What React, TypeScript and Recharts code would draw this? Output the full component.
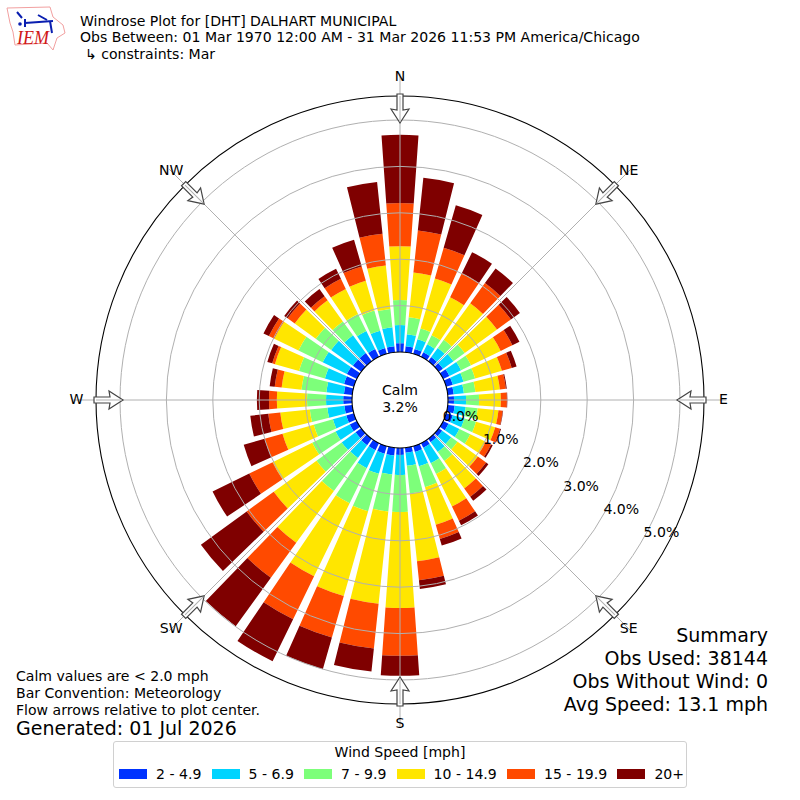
import { RadialBarChart, RadialBar, PolarAngleAxis, PolarRadiusAxis, PolarGrid, Legend } from "recharts";

/* Windrose for DHT, March. Values are percent of observations per 10 degree sector. */

const directions = [0, 10, 20, 30, 40, 50, 60, 70, 80, 90, 100, 110, 120, 130, 140, 150, 160, 170, 180, 190, 200, 210, 220, 230, 240, 250, 260, 270, 280, 290, 300, 310, 320, 330, 340, 350];
const s2to49 = [.19, .13, .11, .11, .11, .11, .15, .15, .13, .13, .15, .15, .13, .09, .09, .11, .13, .11, .15, .17, .17, .17, .17, .15, .17, .17, .17, .19, .18, .22, .24, .22, .22, .19, .13, .13];
const s5to69 = [.39, .26, .22, .19, .24, .28, .28, .24, .22, .26, .24, .26, .26, .24, .26, .37, .32, .28, .43, .41, .45, .43, .34, .37, .34, .30, .37, .37, .38, .43, .58, .58, .47, .43, .39, .41];
const s7to99 = [.54, .37, .24, .22, .22, .30, .24, .26, .25, .28, .26, .26, .26, .17, .24, .26, .47, .60, .80, .80, .84, .84, .88, .67, .56, .43, .38, .41, .54, .58, .58, .41, .37, .41, .45, .40];
const s10to149 = [1.16, .97, 1.12, .91, .97, .86, .71, .60, .53, .47, .45, .43, .37, .54, .73, .78, .84, 1.47, 2.07, 2.00, 1.90, 1.75, 1.38, 1.14, .95, .70, .64, .65, .43, .54, .58, .56, .56, .60, .67, .94];
const s15to199 = [.93, .91, .69, .58, .54, .37, .28, .22, .13, .13, .09, .11, .13, .22, .22, .34, .32, .41, 1.03, .97, .93, 1.03, .93, .72, .56, .40, .26, .17, .15, .06, .13, .19, .11, .24, .32, .69];
const s20plus = [1.47, 1.14, .95, .50, .39, .24, .17, .11, .02, .01, .01, .02, .04, .06, .11, .11, .15, .19, .43, .50, .71, 1.01, 1.29, 1.22, .88, .47, .39, .26, .11, .11, .13, .09, .19, .24, .60, 1.12];

const speedBins = [
  { key: "s1", name: "2 - 4.9", color: "#0033FF", values: s2to49 },
  { key: "s2", name: "5 - 6.9", color: "#00D4FF", values: s5to69 },
  { key: "s3", name: "7 - 9.9", color: "#7DFF7A", values: s7to99 },
  { key: "s4", name: "10 - 14.9", color: "#FFE600", values: s10to149 },
  { key: "s5", name: "15 - 19.9", color: "#FF4A00", values: s15to199 },
  { key: "s6", name: "20+", color: "#7F0000", values: s20plus },
];

// tick = the sector whose axis tick carries the label, deg = where the label really sits
const compass = [
  { tick: 0, deg: 0, label: "N" },
  { tick: 50, deg: 45, label: "NE" },
  { tick: 90, deg: 90, label: "E" },
  { tick: 140, deg: 135, label: "SE" },
  { tick: 180, deg: 180, label: "S" },
  { tick: 230, deg: 225, label: "SW" },
  { tick: 270, deg: 270, label: "W" },
  { tick: 320, deg: 315, label: "NW" },
];
const radiusTicks = [0, 1, 2, 3, 4, 5];
const gridRadii = [94.4, 140.8, 187.2, 233.6, 280];
const spokeAngles = [90, 45, 0, -45, -90, -135, 180, 135];

const data = directions.map((deg, i) => {
  const row: Record<string, number> = { deg };
  speedBins.forEach(b => { row[b.key] = b.values[i]; });
  return row;
});

const CX = 400;
const CY = 400;
const FONT = "'DejaVu Sans', sans-serif";

// compass labels and the flow arrows hang off the angle axis
function CompassTick({ payload }: any) {
  const item = compass.find(c => c.tick === payload.value);
  if (!item) return <g />;
  const rad = (item.deg * Math.PI) / 180;
  return (
    <g>
      <g transform={`translate(${CX},${CY}) rotate(${item.deg})`}>
        <path d="M0,-277 L-9,-291 L-3,-290 L-3,-306 L3,-306 L3,-290 L9,-291 Z" fill="#fff" stroke="#444" strokeWidth={1.2} />
        <path d="M0,-278 L0,-304" stroke="#b0b0b0" strokeWidth={1} />
      </g>
      <text x={CX + 323.5 * Math.sin(rad)} y={CY - 1 - 323.5 * Math.cos(rad)} textAnchor="middle" dominantBaseline="central"
        fontSize={14.07} fontFamily={FONT} fill="#000">{item.label}</text>
    </g>
  );
}

function PercentTick({ x, y, payload }: any) {
  return (
    <text x={x + 19} y={y - 8} textAnchor="middle" dominantBaseline="central" fontSize={14.07} fontFamily={FONT} fill="#000">
      {payload.value.toFixed(1)}%
    </text>
  );
}

function SpeedLegend() {
  return (
    <div style={{ width: 574, height: 47, boxSizing: "border-box", border: "1px solid #d0d0d0", borderRadius: 3, background: "#fff", fontFamily: FONT, fontSize: 14.07, color: "#000" }}>
      <div style={{ textAlign: "center", marginTop: 2, height: 20 }}>Wind Speed [mph]</div>
      <div style={{ display: "flex", paddingLeft: 5, marginTop: 2, whiteSpace: "nowrap" }}>
        {speedBins.map((b, i) => (
          <div key={b.key} style={{ display: "flex", alignItems: "center", flex: "none", marginRight: i === 5 ? 0 : 10.2 }}>
            <span style={{ width: 28, height: 10, background: b.color, display: "inline-block", marginRight: 9 }} />
            <span>{b.name}</span>
          </div>
        ))}
      </div>
    </div>
  );
}

function Logo() {
  return (
    <svg width={70} height={54} style={{ position: "absolute", left: 0, top: 0 }}>
      <path d="M7,8 L50,7 L53,17 L63,25 L65,33 L57,38 L53,50 L47,43 L15,45 L13,32 L10,23 Z" fill="#fff" stroke="#f2a0a0" strokeWidth={1} />
      <path d="M25,23 L53,21 M25,19 L25,27" stroke="#0a1fb0" strokeWidth={2} fill="none" />
      <path d="M17,12 L22,18 M38,15 L47,20 M50,21 L52,33" stroke="#0a1fb0" strokeWidth={2} fill="none" />
      <circle cx={20} cy={24} r={1.8} fill="#0a1fb0" />
      <text x={17} y={44} fontFamily="'Liberation Serif', serif" fontStyle="italic" fontSize={18} fill="#d01818">IEM</text>
    </svg>
  );
}

const textBase: React.CSSProperties = { position: "absolute", fontFamily: FONT, color: "#000", whiteSpace: "pre", lineHeight: 1 };

export default function App() {
  return (
    <div style={{ position: "absolute", left: 0, top: 0, width: 800, height: 800, background: "#fff", overflow: "hidden" }}>
      <RadialBarChart width={800} height={800} data={data} layout="centric" cx={CX} cy={CY}
        innerRadius={48} outerRadius={326.4} startAngle={85} endAngle={-275} barSize={8}
        margin={{ top: 0, right: 0, bottom: 0, left: 0 }}>
        <PolarAngleAxis type="category" dataKey="deg" axisLine={false} tickLine={false} tick={<CompassTick />} />
        {speedBins.map(b => (
          <RadialBar key={b.key} dataKey={b.key} name={b.name} stackId="wind" fill={b.color} isAnimationActive={false} />
        ))}
        <PolarGrid gridType="circle" innerRadius={48} outerRadius={304} polarRadius={gridRadii} polarAngles={spokeAngles} stroke="#b0b0b0" strokeWidth={1} zIndex={400} />
        <PolarGrid gridType="circle" innerRadius={48} outerRadius={304} polarRadius={[48, 304]} radialLines={false} stroke="#000" strokeWidth={1.1} zIndex={400} />
        <PolarRadiusAxis type="number" angle={-30} domain={[0, 6]} ticks={radiusTicks} axisLine={false} tickLine={false} tick={<PercentTick />} />
        <Legend content={<SpeedLegend />} wrapperStyle={{ left: 113, top: 741, width: 574 }} />
      </RadialBarChart>

      <Logo />
      <div style={{ ...textBase, left: 80, top: 14, fontSize: 14.07 }}>Windrose Plot for [DHT] DALHART MUNICIPAL</div>
      <div style={{ ...textBase, left: 80, top: 30, fontSize: 14.07 }}>Obs Between: 01 Mar 1970 12:00 AM - 31 Mar 2026 11:53 PM America/Chicago</div>
      <div style={{ ...textBase, left: 85, top: 47, fontSize: 14.07 }}>↳ constraints: Mar</div>

      <div style={{ ...textBase, left: 340, width: 120, top: 382, fontSize: 14.07, textAlign: "center", lineHeight: "16.5px" }}>{"Calm\n3.2%"}</div>

      <div style={{ ...textBase, left: 16, top: 669, fontSize: 14.07 }}>Calm values are &lt; 2.0 mph</div>
      <div style={{ ...textBase, left: 16, top: 686, fontSize: 14.07 }}>Bar Convention: Meteorology</div>
      <div style={{ ...textBase, left: 16, top: 703, fontSize: 14.07 }}>Flow arrows relative to plot center.</div>
      <div style={{ ...textBase, left: 16, top: 719, fontSize: 19 }}>Generated: 01 Jul 2026</div>

      <div style={{ ...textBase, right: 32, top: 626, fontSize: 19 }}>Summary</div>
      <div style={{ ...textBase, right: 32, top: 649, fontSize: 19 }}>Obs Used: 38144</div>
      <div style={{ ...textBase, right: 32, top: 672, fontSize: 19 }}>Obs Without Wind: 0</div>
      <div style={{ ...textBase, right: 32, top: 695, fontSize: 19 }}>Avg Speed: 13.1 mph</div>
    </div>
  );
}
